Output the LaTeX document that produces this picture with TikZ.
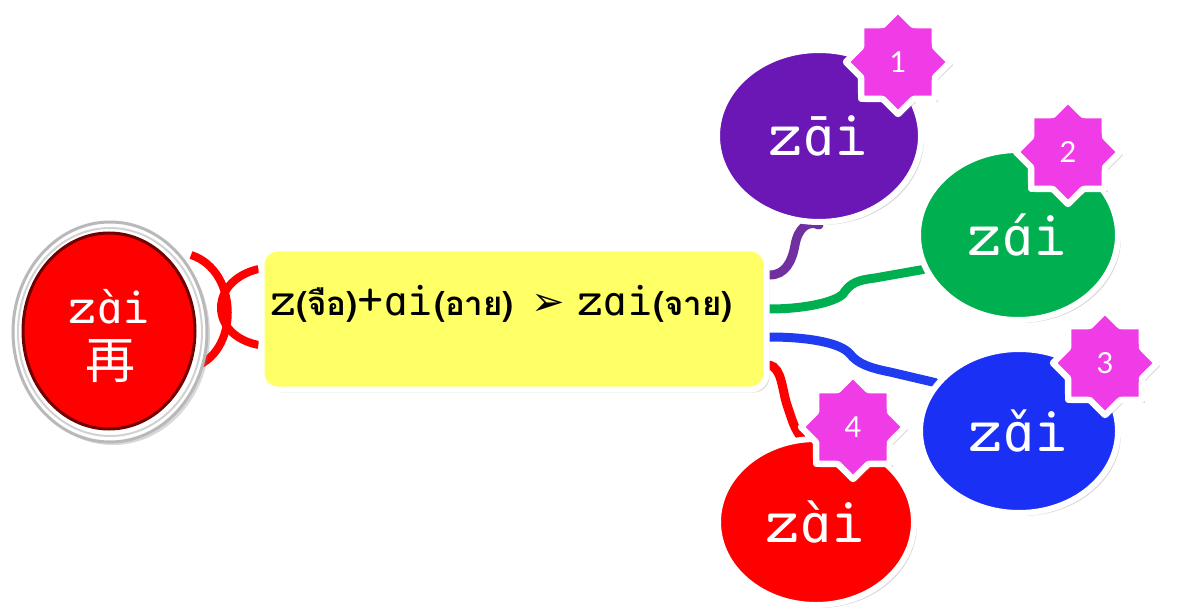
\documentclass[tikz,border=0pt]{standalone}
\usepackage{fontspec}
\setmainfont{Liberation Serif}
\newfontfamily\pinyin{lmmono10-regular.otf}
\newfontfamily\ipa[Scale=0.79]{DejaVu Sans Mono}
\newfontfamily\thaifont[Script=Thai]{Loma}
\newfontfamily\cjk{Noto Sans CJK SC}
\newfontfamily\symb{DejaVu Sans}
\newfontfamily\numfont{Lato}
\usetikzlibrary{shapes.geometric,shadows,calc}
\pgfdeclarelayer{background}
\pgfsetlayers{background,main}
\definecolor{tonepurple}{HTML}{6A17B6}
\definecolor{tonegreen}{HTML}{00AF50}
\definecolor{toneblue}{HTML}{1B30F5}
\definecolor{tonered}{HTML}{FF0000}
\definecolor{linkpurple}{HTML}{7030A0}
\definecolor{linkblue}{HTML}{1F3CF0}
\definecolor{boxyellow}{HTML}{FFFF66}
\definecolor{badgepink}{HTML}{F03CE6}
% pinyin: serif monospace letters, the alpha with its tone mark from DejaVu
\newcommand{\pa}[1]{{\ipa ɑ#1}}
\newcommand{\thaipart}[1]{{\thaifont\bfseries\fontsize{16.5pt}{18pt}\selectfont #1}}
\begin{document}
\begin{tikzpicture}[x=0.5pt,y=-0.5pt,
  softshadow/.style={drop shadow={opacity=0.3,shadow xshift=1.5pt,shadow yshift=-1.5pt}},
  tone/.style={ellipse,draw=white,line width=3pt,inner sep=0pt,text=white,
    font=\pinyin\fontsize{33pt}{35pt}\selectfont,softshadow},
  badge/.style={star,star points=8,star point ratio=1.3,minimum size=52pt,inner sep=0pt,
    fill=badgepink,draw=white,line width=3.2pt,line join=round,text=white,
    font=\numfont\fontsize{14.5pt}{16pt}\selectfont,softshadow},
  link/.style={line width=4.5pt,line cap=round},
  chain/.style={line width=4pt,draw=tonered}]
\useasboundingbox (0,0) rectangle (1181,614);

% the character button on the left
\node[ellipse,minimum width=97pt,minimum height=110pt,inner sep=0pt,fill=white,
  draw=gray!55,line width=1.5pt,softshadow] (ring) at (110,332) {};
\node[ellipse,minimum width=92pt,minimum height=104pt,inner sep=0pt,
  draw=gray!35,line width=1pt] (rim) at (110,332) {};
\node[ellipse,minimum width=86pt,minimum height=98pt,inner sep=0pt,fill=tonered,
  draw=red!45!black,line width=1.5pt] (c) at (109,331) {};
\node[anchor=base,inner sep=0pt,text=white,font=\pinyin\fontsize{27pt}{28pt}\selectfont]
  (csound) at (110,323) {z\pa{̀}i};
\node[inner sep=0pt,text=white,font=\cjk\fontsize{25pt}{27pt}\selectfont]
  (cchar) at (110,361) {再};

% the spelling box
\node[rectangle,rounded corners=8pt,fill=boxyellow,draw=white,line width=3pt,
  minimum width=252.5pt,minimum height=70.5pt,softshadow] (box) at (514,319) {};
\node[anchor=base west,inner sep=0pt,font=\pinyin\fontsize{25pt}{26pt}\selectfont] (formula) at (270,315)
  {z\thaipart{(จือ)}+\pa{}i\thaipart{(อาย)}\hspace{9pt}{\symb\fontsize{20pt}{20pt}\selectfont ➢}\hspace{6pt}z\pa{}i\thaipart{(จาย)}};

% the four tones
\node[tone,fill=tonepurple,minimum width=102pt,minimum height=86pt] (t1) at (819,136) {z\pa{̄}i};
\node[tone,fill=tonegreen,minimum width=100pt,minimum height=85pt] (t2) at (1018,235) {z\pa{́}i};
\node[tone,fill=toneblue,minimum width=99pt,minimum height=82pt] (t3) at (1019,431) {z\pa{̌}i};
\node[tone,fill=tonered,minimum width=98pt,minimum height=83pt] (t4) at (816,522) {z\pa{̀}i};

\node[badge] (s1) at (898,62) {1};
\node[badge] (s2) at (1068,152) {2};
\node[badge] (s3) at (1105,363) {3};
\node[badge] (s4) at (853,427) {4};

\begin{pgfonlayer}{background}
  % chain links between the button and the box
  \draw[chain] ($(c.center)+(82,-76)$) .. controls ($(c.center)+(131,-60)$)
    and ($(c.center)+(131,24)$) .. ($(c.center)+(82,37)$);
  \draw[chain] ([yshift=25pt]box.west) .. controls ($([yshift=25pt]box.west)+(-50,12)$)
    and ($([yshift=-13pt]box.west)+(-50,-10)$) .. ([yshift=-13pt]box.west);
  % branches to the tones
  \draw[link,draw=linkpurple] ([yshift=22pt]box.east) .. controls (785,275) and (792,262) .. (795,245)
    .. controls (798,228) and (808,220) .. (t1.south);
  \draw[link,draw=tonegreen] ([yshift=5pt]box.east) .. controls (805,309) and (835,302) .. (843,294)
    .. controls (850,283) and (858,280) .. (875,278) -- (t2.200);
  \draw[link,draw=linkblue] ([yshift=-9pt]box.east) .. controls (805,337) and (840,342) .. (850,354)
    .. controls (858,364) and (870,368) .. (890,372) -- (t3.150);
  \draw[link,draw=tonered] ([yshift=-23pt]box.east) .. controls (782,368) and (782,390) .. (787,405)
    .. controls (792,420) and (795,430) .. (t4.100);
\end{pgfonlayer}
\end{tikzpicture}
\end{document}
